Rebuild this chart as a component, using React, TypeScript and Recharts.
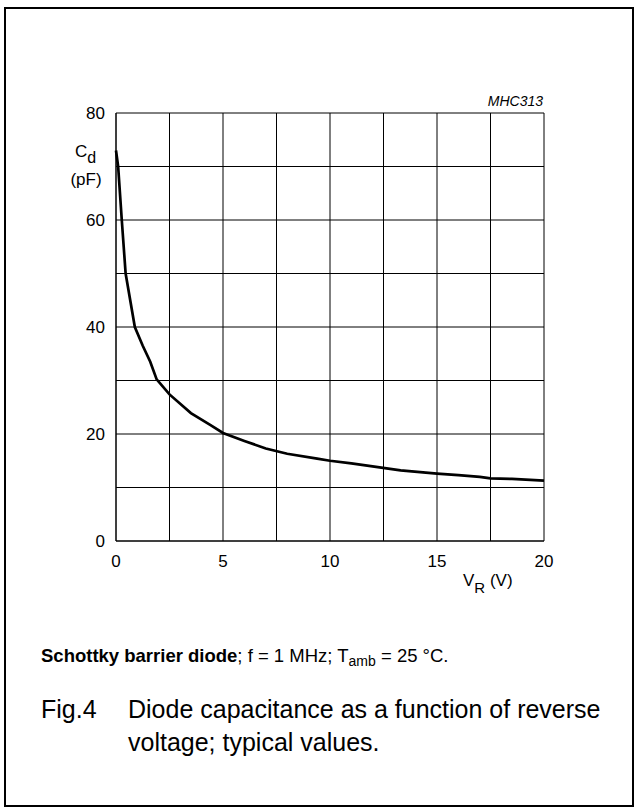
import React from 'react';
import { LineChart, Line, XAxis, YAxis, CartesianGrid, Label } from 'recharts';

// Typical diode capacitance Cd (pF) against reverse voltage VR (V)
const reverseVoltage = [0, 0.1, 0.27, 0.45, 0.88, 1.25, 1.6, 1.9, 2.5, 3.5, 4.4, 5, 6, 7, 8, 9.4, 10, 11, 12.4, 13.3, 15, 16, 17, 17.5, 18.5, 20];
const capacitance = [73, 70, 60, 50, 40, 36.5, 33.5, 30.2, 27.4, 23.9, 21.7, 20.2, 18.7, 17.3, 16.3, 15.4, 15, 14.5, 13.7, 13.2, 12.6, 12.3, 12.0, 11.7, 11.6, 11.3];

// grid every 2.5 V / 10 pF, numbers only on every other line
const voltageTicks = [0, 2.5, 5, 7.5, 10, 12.5, 15, 17.5, 20];
const capacitanceTicks = [0, 10, 20, 30, 40, 50, 60, 70, 80];

const data = reverseVoltage.map((v, i) => ({ vr: v, cd: capacitance[i] }));

const FONT = '"Liberation Sans", Arial, Helvetica, sans-serif';

const YTitle = ({ viewBox }: any) => {
  const right = viewBox.x + viewBox.width - 16;
  const top = viewBox.y;
  return (
    <g fontFamily={FONT} fill="#000">
      <text x={right - 25} y={top + 44} fontSize={17}>
        C<tspan fontSize={16} dy={6}>d</tspan>
      </text>
      <text x={right - 14} y={top + 72} fontSize={17} textAnchor="middle">(pF)</text>
    </g>
  );
};

const XTitle = ({ viewBox }: any) => {
  const x = viewBox.x + viewBox.width - 81;
  const y = viewBox.y + 45;
  return (
    <text x={x} y={y} fontFamily={FONT} fontSize={17} fill="#000">
      V<tspan fontSize={15} dy={7}>R</tspan>
      <tspan dy={-7}> (V)</tspan>
    </text>
  );
};

const App = () => {
  return (
    <div style={{ position: 'absolute', left: 0, top: 0, width: 640, height: 812, background: '#fff' }}>
      <LineChart
        width={640}
        height={812}
        data={data}
        margin={{ top: 113, right: 96, bottom: 241, left: 56 }}
      >
        <CartesianGrid stroke="#000" strokeWidth={1} />
        <XAxis
          dataKey="vr"
          type="number"
          domain={[0, 20]}
          ticks={voltageTicks}
          tickFormatter={(v: number) => (v % 5 === 0 ? String(v) : '')}
          height={30}
          tickLine={false}
          tickSize={0}
          tickMargin={14}
          axisLine={{ stroke: '#000' }}
          tick={{ fill: '#000', fontSize: 17, fontFamily: FONT }}
          interval={0}
        >
          <Label content={XTitle} />
        </XAxis>
        <YAxis
          type="number"
          domain={[0, 80]}
          ticks={capacitanceTicks}
          tickFormatter={(v: number) => (v % 20 === 0 ? String(v) : '')}
          width={60}
          tickLine={false}
          tickSize={0}
          tickMargin={11}
          axisLine={{ stroke: '#000' }}
          tick={{ fill: '#000', fontSize: 17, fontFamily: FONT }}
          interval={0}
        >
          <Label content={YTitle} />
        </YAxis>
        <Line
          type="linear"
          dataKey="cd"
          stroke="#000"
          strokeWidth={2.7}
          dot={false}
          isAnimationActive={false}
        />
      </LineChart>

      {/* frame, drawing code and caption */}
      <svg
        width={640}
        height={812}
        style={{ position: 'absolute', left: 0, top: 0, pointerEvents: 'none' }}
        fontFamily={FONT}
      >
        <rect x={5} y={8} width={628} height={798} fill="none" stroke="#000" strokeWidth={2} />
        <text x={543} y={106} fontSize={14} fontStyle="italic" textAnchor="end">MHC313</text>
        <text x={41} y={662} fontSize={18.5}>
          <tspan fontWeight="bold">Schottky barrier diode</tspan>
          <tspan>; f = 1 MHz; T</tspan>
          <tspan fontSize={14} dy={4}>amb</tspan>
          <tspan dy={-4}> = 25 °C.</tspan>
        </text>
        <text x={41} y={718} fontSize={25}>Fig.4</text>
        <text x={128} y={718} fontSize={25}>Diode capacitance as a function of reverse</text>
        <text x={128} y={751} fontSize={25}>voltage; typical values.</text>
      </svg>
    </div>
  );
};

export default App;
